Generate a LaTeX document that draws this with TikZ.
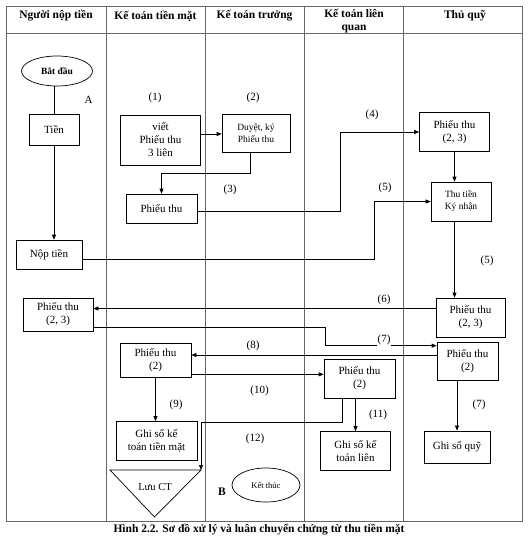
\documentclass[tikz,border=0pt]{standalone}
\usepackage{fontspec}
\setmainfont{Liberation Serif}
\usetikzlibrary{arrows.meta,shapes.geometric,calc}
\begin{document}
\begin{tikzpicture}[x=1pt,y=-1pt,
  grid/.style={draw=black!60, line width=0.8pt},
  hdr/.style={font=\bfseries\fontsize{11.5}{12.5}\selectfont, align=center, inner sep=0pt},
  box/.style={draw, line width=0.7pt, align=center, inner sep=1pt, font=\fontsize{11}{13}\selectfont},
  sbox/.style={box, font=\fontsize{9.5}{12}\selectfont},
  lbl/.style={font=\fontsize{11}{12}\selectfont, inner sep=1pt},
  conn/.style={draw, line width=0.7pt},
  arr/.style={conn, -{Triangle[length=5pt,width=4pt]}}]
\useasboundingbox (0,0) rectangle (528,541);
% frame and lanes
\draw[grid] (6,6) rectangle (522,521);
\draw[grid] (6,33) -- (522,33);
\foreach \x in {106,205,304,403} \draw[grid] (\x,6) -- (\x,521);
% headers
\node[hdr] (h1) at (56,16) {Người nộp tiền};
\node[hdr] (h2) at (155.5,16) {Kế toán tiền mặt};
\node[hdr] (h3) at (254.5,16) {Kế toán trưởng};
\node[hdr] (h4) at (354,21) {Kế toán liên\\quan};
\node[hdr] (h5) at (465,16) {Thủ quỹ};
% nodes
\node[ellipse, draw, line width=0.7pt, minimum width=71pt, minimum height=30pt, inner sep=0pt,
      font=\bfseries\fontsize{9.5}{10}\selectfont] (start) at (57,71) {Bắt đầu};
\node[lbl] (lA) at (88.5,99.5) {A};
\node[box, minimum width=50pt, minimum height=31pt] (tien) at (54,130) {Tiền};
\node[box, minimum width=66pt, minimum height=29pt] (noptien) at (49,254.5) {Nộp tiền};
\node[box, minimum width=80pt, minimum height=50pt] (viet) at (160.5,140) {viết\\Phiếu thu\\3 liên};
\node[sbox, minimum width=68pt, minimum height=38pt] (duyet) at (256,133.5) {Duyệt, ký\\Phiếu thu};
\node[box, minimum width=71pt, minimum height=29pt] (pt3) at (161.5,208.5) {Phiếu thu};
\node[box, minimum width=70pt, minimum height=39pt] (ptq1) at (454.5,132) {Phiếu thu\\(2, 3)};
\node[sbox, minimum width=60pt, minimum height=39pt] (thutien) at (461,201.5) {Thu tiền\\Ký nhận};
\node[box, minimum width=69pt, minimum height=39pt] (ptq2) at (470.5,317.5) {Phiếu thu\\(2, 3)};
\node[box, minimum width=70pt, minimum height=33pt] (ptn) at (58,314.5) {Phiếu thu\\(2, 3)};
\node[box, minimum width=61pt, minimum height=38pt] (ptq3) at (467.5,361) {Phiếu thu\\(2)};
\node[box, minimum width=71pt, minimum height=34pt] (ptc) at (155.5,360) {Phiếu thu\\(2)};
\node[box, minimum width=71pt, minimum height=39pt] (ptl) at (359.5,378.5) {Phiếu thu\\(2)};
\node[box, minimum width=81pt, minimum height=39pt] (ghitm) at (156.5,441) {Ghi sổ kế\\toán tiền mặt};
\node[box, minimum width=70pt, minimum height=39pt] (ghilien) at (355.5,451) {Ghi sổ kế\\toán liên};
\node[box, minimum width=66pt, minimum height=32pt] (ghiquy) at (457,447) {Ghi sổ quỹ};
% Luu CT triangle
\coordinate (tl) at (110,470);
\coordinate (tr) at (201,470);
\coordinate (tb) at (154.5,517);
\draw[line width=0.7pt] (tl) -- (tr) -- (tb) -- cycle;
\node[fill=white, inner sep=2pt, font=\fontsize{10.5}{12}\selectfont] (luu) at (155,487) {Lưu CT};
\node[font=\bfseries\fontsize{11.5}{12}\selectfont, inner sep=0pt] (lB) at (222,492) {B};
\node[ellipse, draw, line width=0.7pt, minimum width=68pt, minimum height=34pt, inner sep=0pt,
      font=\fontsize{8.5}{9}\selectfont] (end) at (266,485) {Kết thúc};
% step labels
\node[lbl] (l1) at (155,97.5) {(1)};
\node[lbl] (l2) at (253,97.5) {(2)};
\node[lbl] (l3) at (230,190) {(3)};
\node[lbl] (l4) at (372,115) {(4)};
\node[lbl] (l5a) at (385,188) {(5)};
\node[lbl] (l5b) at (487,261) {(5)};
\node[lbl] (l6) at (384,300) {(6)};
\node[lbl] (l8) at (253,345.5) {(8)};
\node[lbl] (l9) at (176,405) {(9)};
\node[lbl] (l10) at (259.5,390.5) {(10)};
\node[lbl] (l11) at (378,415) {(11)};
\node[lbl] (l12) at (255,439) {(12)};
\node[lbl] (l7b) at (479,405) {(7)};
% connectors
\draw[conn] (tien.north |- start.south) -- (tien.north);
\draw[arr] (tien.south) -- (tien.south |- noptien.north);
\coordinate (a1) at ([yshift=6pt]viet.east);
\draw[arr] (a1) -- (a1 -| duyet.west);
\draw[arr] ([xshift=-6pt]duyet.south) -- ++(0,20) -| (pt3.north);
\coordinate (k4) at (340.5,0);
\coordinate (a3) at ([yshift=-2.5pt]pt3.east);
\draw[arr] (a3) -| (k4 |- ptq1.west) -- (ptq1.west);
\draw[arr] (ptq1.south) -- (ptq1.south |- thutien.north);
\coordinate (k5) at (374,0);
\coordinate (a5) at ([yshift=-5pt]noptien.east);
\draw[arr] (a5) -| (k5 |- thutien.west) -- (thutien.west);
\draw[arr] (ptq1.south |- thutien.south) -- (ptq1.south |- ptq2.north);
\coordinate (a6) at ([yshift=9pt]ptq2.west);
\draw[arr] (a6) -- (a6 -| ptn.east);
\coordinate (a7) at ([yshift=4pt]ptn.south east);
\coordinate (e7) at ([yshift=-4pt]ptq3.north west);
\coordinate (k7) at (325,0);
\draw[arr] (a7) -| (k7 |- e7) -- (e7);
\node[lbl, fill=white, minimum height=15pt, anchor=north] (l7a) at (384,332) {(7)};
\coordinate (a8) at ([yshift=6pt]ptq3.west);
\draw[arr] (a8) -- (a8 -| ptc.east);
\coordinate (a10) at ([yshift=3pt]ptc.south east);
\draw[arr] (a10) -- (a10 -| ptl.west);
\draw[arr] (ptc.south) -- (ptc.south |- ghitm.north);
\draw[arr] ([xshift=-4pt]ptl.south) -- ([xshift=-4pt]ptl.south |- ghilien.north);
\draw[arr] ([xshift=-17.5pt]ptl.south) -- ++(0,23.5) -| (tr);
\draw[arr] (ghiquy.north |- ptq3.south) -- (ghiquy.north);
% caption
\node[font=\bfseries\fontsize{11.5}{12}\selectfont, inner sep=0pt] (cap) at (259,530) {Hình 2.2. Sơ đồ xử lý và luân chuyển chứng từ thu tiền mặt};
\end{tikzpicture}
\end{document}
